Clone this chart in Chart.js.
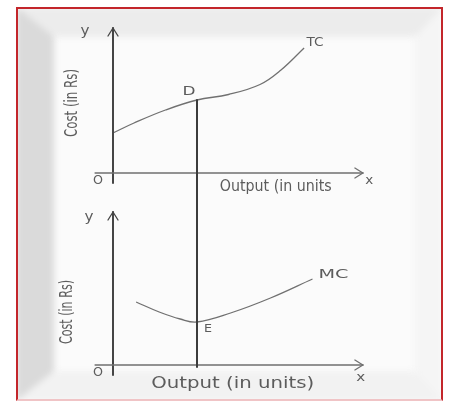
<!DOCTYPE html>
<html>
<head>
<meta charset="utf-8">
<title>TC and MC</title>
<script src="https://cdn.jsdelivr.net/npm/chart.js@4.4.1/dist/chart.umd.min.js"></script>
<style>
  html, body { margin: 0; padding: 0; background: #fff; }
  #frame {
    position: absolute; left: 16px; top: 7px; width: 423px; height: 390px;
    border: 2px solid #c3262b; border-bottom-color: #f0c4c6;
    overflow: hidden; background: #fbfbfb;
  }
  /* bevelled mat inside the red frame */
  #bevel {
    position: absolute; left: -2px; top: -2px; right: -2px; bottom: -2px;
    border-style: solid; border-width: 30px 28px 30px 38px;
    border-color: #ececec #f5f5f5 #f2f2f2 #dadada;
    filter: blur(3px);
  }
  #chart { position: absolute; left: 0; top: 0; }
</style>
</head>
<body>
<div id="frame"><div id="bevel"></div></div>
<canvas id="chart" width="449" height="403"></canvas>
<script>
// ================= DATA =================
// total cost curve (upper panel)
const tcOutput = [0, 1, 2.5, 4, 5.5, 7, 8, 9.1];
const tcCost   = [4.0, 5.0, 6.3, 7.3, 7.85, 8.85, 10.3, 12.5];

// marginal cost curve (lower panel)
const mcOutput = [1.1, 2.2, 3.2, 4, 5.6, 7.5, 9.5];
const mcCost   = [6.3, 5.3, 4.6, 4.3, 5.2, 6.7, 8.6];

// output level where D (on TC) sits above E (on MC)
const eqOutput = 4;
const curveNames = ['TC', 'MC'];
const pointNames = ['D', 'E'];

const toPoints = (xs, ys) => xs.map((x, i) => ({ x: x, y: ys[i] }));

const ink = '#454545';
const pencil = '#707070';
const textInk = '#5c5c5c';

// ================= TEXT HELPER =================
function label(ctx, text, x, y, size, width, rotate) {
    ctx.save();
    ctx.translate(x, y);
    if (rotate) ctx.rotate(-Math.PI / 2);
    ctx.font = size + 'px "DejaVu Sans", sans-serif';
    const w = ctx.measureText(text).width;
    if (width) ctx.scale(width / w, 1);
    ctx.fillStyle = textInk;
    ctx.textAlign = 'center';
    ctx.textBaseline = 'middle';
    ctx.fillText(text, 0, 0);
    ctx.restore();
}

function line(ctx, x1, y1, x2, y2, color, width) {
    ctx.beginPath();
    ctx.moveTo(x1, y1);
    ctx.lineTo(x2, y2);
    ctx.strokeStyle = color;
    ctx.lineWidth = width;
    ctx.stroke();
}

// ================= AXES + LABELS =================
const sketchPlugin = {
    id: 'sketch',
    afterDatasetsDraw(chart) {
        const ctx = chart.ctx;
        const x = chart.scales.x;
        const panels = [chart.scales.yTop, chart.scales.yBot];
        const x0 = x.getPixelForValue(0);
        const xEnd = x.getPixelForValue(11.9);
        const xStart = x.getPixelForValue(-0.85);

        ctx.save();
        ctx.lineCap = 'round';

        panels.forEach((y, i) => {
            const y0 = y.getPixelForValue(0);
            const yTopPx = y.getPixelForValue(i === 0 ? 14.5 : 15.3);

            // y axis with arrow
            line(ctx, x0, y0 + 10, x0, yTopPx, ink, 2);
            line(ctx, x0, yTopPx, x0 - 5, yTopPx + 8, ink, 1.3);
            line(ctx, x0, yTopPx, x0 + 5, yTopPx + 8, ink, 1.3);

            // x axis with arrow
            line(ctx, xStart, y0, xEnd, y0, pencil, 1.6);
            line(ctx, xEnd, y0, xEnd - 8, y0 - 5, pencil, 1.3);
            line(ctx, xEnd, y0, xEnd - 8, y0 + 5, pencil, 1.3);

            label(ctx, 'O', x0 - 15, y0 + 8, 12, 10);
        });

        const yT = chart.scales.yTop, yB = chart.scales.yBot;
        const xq = x.getPixelForValue(eqOutput);
        const dY = yT.getPixelForValue(tcCost[tcOutput.indexOf(eqOutput)]);
        const eY = yB.getPixelForValue(mcCost[mcOutput.indexOf(eqOutput)]);

        // vertical line from D down to the lower output axis
        line(ctx, xq, dY, xq, yB.getPixelForValue(0) + 2, '#3c3c3c', 2);

        label(ctx, pointNames[0], xq - 8, dY - 8, 13, 13);
        label(ctx, pointNames[1], xq + 11, eY + 7, 11, 8);

        const tcEnd = chart.getDatasetMeta(0).data.at(-1);
        const mcEnd = chart.getDatasetMeta(1).data.at(-1);
        label(ctx, curveNames[0], tcEnd.x + 11, tcEnd.y - 5, 12, 17);
        label(ctx, curveNames[1], mcEnd.x + 21, mcEnd.y - 4, 12, 30);

        // axis names, upper panel
        label(ctx, 'y', x0 - 28, yT.getPixelForValue(14.2), 14, 9);
        label(ctx, 'Cost (in Rs)', x0 - 40, yT.getPixelForValue(7.0), 17, 68, true);
        label(ctx, 'Output (in units', x.getPixelForValue(7.75), yT.getPixelForValue(0) + 14, 15, 112);
        label(ctx, 'x', x.getPixelForValue(12.2), yT.getPixelForValue(0) + 8, 13, 8);

        // axis names, lower panel
        label(ctx, 'y', x0 - 24, yB.getPixelForValue(14.8), 14, 9);
        label(ctx, 'Cost (in Rs)', x0 - 45, yB.getPixelForValue(5.3), 17, 64, true);
        label(ctx, 'Output (in units)', x.getPixelForValue(5.7), yB.getPixelForValue(0) + 19, 16, 163);
        label(ctx, 'x', x.getPixelForValue(11.8), yB.getPixelForValue(0) + 13, 13, 9);

        ctx.restore();
    }
};

// ================= CHART =================
new Chart(document.getElementById('chart'), {
    type: 'line',
    data: {
        datasets: [{
            label: curveNames[0],
            data: toPoints(tcOutput, tcCost),
            yAxisID: 'yTop',
            borderColor: pencil,
            borderWidth: 1.3,
            pointRadius: 0,
            tension: 0.4
        }, {
            label: curveNames[1],
            data: toPoints(mcOutput, mcCost),
            yAxisID: 'yBot',
            borderColor: pencil,
            borderWidth: 1.3,
            pointRadius: 0,
            tension: 0.4
        }]
    },
    options: {
        responsive: false,
        animation: false,
        layout: { padding: { left: 113, right: 84, top: 28, bottom: 38 } },
        plugins: { legend: { display: false }, tooltip: { enabled: false } },
        scales: {
            x: { type: 'linear', min: 0, max: 12, display: false },
            // both panels share one plot area, each cost scale owns one band
            yTop: { type: 'linear', min: -19.2, max: 14.5, display: false },
            yBot: { type: 'linear', min: 0, max: 33.7, display: false }
        }
    },
    plugins: [sketchPlugin]
});
</script>
</body>
</html>
